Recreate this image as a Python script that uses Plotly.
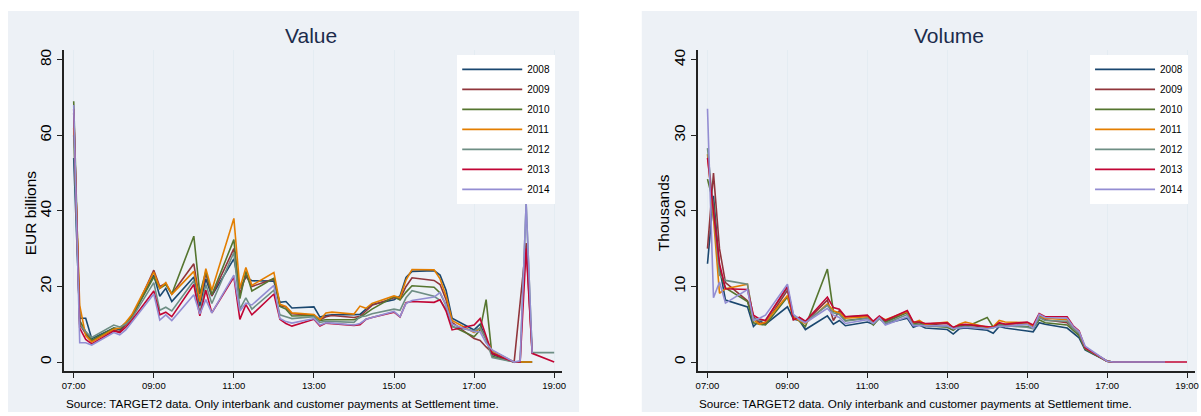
import plotly.graph_objects as go

# ---------------- data ----------------
years = ["2008", "2009", "2010", "2011", "2012", "2013", "2014"]
colors = ["#1a476f", "#90353b", "#55752f", "#e37e00", "#6e8e84", "#c10534", "#938dd2"]

# observation times (hours); points at :00, :09, :18, :27 of each hour, then 19:00
hours = [7, 8, 9, 10, 11, 12, 13, 14, 15, 16, 17, 18]
minutes = [0, 9, 18, 27]
times = [h + m / 60 for h in hours for m in minutes] + [19.0]

tick_vals = [7, 9, 11, 13, 15, 17, 19]
tick_text = ["07:00", "09:00", "11:00", "13:00", "15:00", "17:00", "19:00"]

N = None
# Value, EUR billions
value_2008 = [54, 11.6, 11.6, 6.2, 9.0, 8.5, 10.0, 12.0, 23.0, 17.4, 19.5, 16.0,
              22.5, 14.8, 22.0, 17.5, 27.3, 19.5, 22.5, 21.5, 21.4, 15.8, 16.0, 14.3,
              14.6, 11.9, 12.3, 12.5, 12.5, 12.6, 14.0, 15.2, 16.5, 17.5, 22.4, 24.0,
              24.2, 23.0, 19.0, 11.6, 8.5, 10.0, 6.0, 2.0, 0.0, 0.0, 0.0, 0.0, N]
value_2009 = [66, 10.0, 7.5, 5.5, 8.5, 8.0, 9.8, 11.5, 24.3, 20.0, 20.8, 18.0,
              26.0, 16.0, 23.5, 17.5, 30.0, 18.0, 23.0, 20.0, 22.0, 14.9, 14.6, 12.8,
              12.4, 11.2, 12.0, 12.3, 11.8, 12.1, 13.5, 15.0, 17.0, 16.7, 20.0, 22.3,
              21.6, 20.5, 16.5, 10.5, 6.2, 5.7, 4.0, 2.5, 0.0, 15.0, 31.5, 2.3, N]
value_2010 = [69, 11.0, 8.0, 5.8, 9.0, 8.8, 10.3, 12.0, 22.5, 19.5, 20.5, 18.0,
              33.3, 18.0, 24.0, 17.8, 32.4, 16.8, 24.0, 18.8, 22.2, 14.7, 14.0, 12.2,
              12.3, 11.0, 11.2, 11.2, 11.2, 11.8, 12.8, 14.0, 17.3, 16.4, 18.5, 20.2,
              19.8, 18.3, 15.0, 9.5, 6.7, 8.5, 16.5, 1.5, 0.0, 0.0, 0.0, 0.0, N]
value_2011 = [62, 15.0, 7.0, 5.3, 8.7, 9.0, 10.5, 12.5, 23.8, 19.5, 21.0, 17.9,
              24.0, 16.0, 24.7, 19.0, 38.0, 19.5, 25.0, 20.3, 23.7, 15.3, 14.7, 13.0,
              12.6, 11.2, 13.0, 13.2, 12.7, 14.8, 14.2, 15.5, 17.5, 17.0, 21.7, 24.5,
              24.4, 22.0, 17.5, 11.0, 7.8, 9.0, 6.0, 3.0, 0.0, 0.0, 0.0, 0.0, N]
value_2012 = [60, 10.0, 8.0, 6.5, 9.8, 9.3, 10.0, 11.5, 21.0, 13.7, 14.5, 13.5,
              21.5, 13.0, 20.5, 15.5, 29.0, 14.0, 17.0, 14.0, 19.0, 12.5, 12.0, 11.5,
              12.0, 10.5, 10.8, 10.7, 10.5, 12.0, 12.2, 12.8, 14.0, 13.7, 17.0, 18.9,
              17.4, 16.3, 14.0, 9.3, 8.3, 9.0, 6.0, 1.2, 0.0, 0.0, 42.0, 2.5, 2.5]
value_2013 = [67, 9.0, 6.0, 4.8, 8.2, 7.8, 9.2, 11.0, 18.8, 12.5, 13.2, 12.0,
              20.5, 12.2, 19.0, 13.0, 22.5, 11.3, 15.2, 12.5, 18.0, 11.3, 10.2, 9.5,
              11.3, 9.5, 10.3, 10.2, 9.7, 9.9, 11.3, 11.8, 13.2, 11.9, 15.7, 16.0,
              15.8, 16.5, 13.5, 8.5, 9.8, 11.5, 7.0, 2.2, 0.0, 0.0, 30.0, 2.3, 0.0]
value_2014 = [68, 5.1, 5.1, 4.5, 7.8, 7.2, 8.5, 10.5, 18.0, 11.1, 12.5, 11.0,
              17.8, 12.7, 16.5, 13.0, 23.0, 13.5, 15.6, 15.1, 20.3, 11.5, 10.7, 10.3,
              11.5, 9.8, 10.4, 10.3, 9.8, 10.2, 11.3, 11.8, 13.4, 12.0, 15.5, 16.3,
              17.2, 18.4, 15.0, 10.0, 8.0, 8.0, 5.0, 3.2, 0.0, 0.3, 42.0, 2.3, N]

# Volume, thousands
volume_2008 = [13, 22, 12.5, 8.2, 7.3, 4.7, 5.5, 5.0, 7.3, 5.7, 5.5, 4.3,
               6.1, 5.0, 5.5, 4.8, 5.3, 5.0, 5.9, 5.1, 5.8, 4.6, 4.9, 4.5,
               4.3, 3.7, 4.4, 4.5, 4.2, 3.8, 4.7, 4.5, 4.1, 4.0, 5.2, 5.0,
               4.5, 3.8, 3.2, 1.6, 0.1, 0, 0, 0, 0, 0, 0, 0, N]
volume_2009 = [15, 25, 15, 10.5, 8.1, 6.0, 5.2, 5.1, 9.5, 5.6, 5.9, 5.3,
               8.2, 5.5, 6.8, 6.0, 6.1, 5.2, 6.0, 5.3, 6.6, 5.1, 5.2, 4.9,
               5.1, 4.5, 4.8, 4.9, 4.6, 4.6, 5.1, 5.0, 5.1, 4.6, 6.2, 5.6,
               5.2, 4.5, 3.7, 1.8, 0.1, 0, 0, 0, 0, 0, 0, 0, N]
volume_2010 = [24.2, 21, 12, 9.8, 8.0, 5.2, 5.0, 4.9, 8.6, 6.0, 5.4, 4.7,
               12.3, 6.7, 6.5, 5.5, 5.8, 4.9, 5.8, 5.3, 6.6, 5.0, 5.3, 4.8,
               4.6, 4.2, 4.8, 4.6, 5.9, 4.6, 5.0, 4.8, 4.7, 4.5, 5.6, 5.2,
               4.9, 4.2, 3.5, 1.7, 0.1, 0, 0, 0, 0, 0, 0, 0, N]
volume_2011 = [27.5, 19, 9.1, 9.7, 10.3, 5.6, 5.0, 5.3, 8.8, 5.9, 5.5, 5.1,
               7.7, 6.8, 6.5, 5.8, 6.0, 5.2, 6.0, 5.6, 6.7, 5.2, 5.5, 5.0,
               5.3, 4.5, 5.0, 5.3, 4.6, 4.7, 5.5, 5.3, 5.2, 4.8, 6.0, 5.8,
               5.6, 4.6, 3.9, 1.9, 0.1, 0, 0, 0, 0, 0, 0, 0, N]
volume_2012 = [28.3, 20, 11.5, 10.8, 10.3, 5.8, 5.5, 5.5, 9.8, 6.2, 5.8, 5.3,
               7.5, 6.5, 6.3, 5.4, 5.8, 5.1, 5.7, 5.1, 6.3, 4.9, 5.0, 4.8,
               4.7, 4.6, 4.6, 4.7, 4.4, 4.5, 4.9, 4.8, 4.6, 4.4, 5.9, 5.5,
               5.4, 4.4, 3.8, 1.9, 0.1, 0, 0, 0, 0, 0, 0, 0, N]
volume_2013 = [27, 20, 13, 9.7, 9.6, 6.2, 5.7, 5.5, 10.0, 5.6, 5.9, 5.4,
               8.6, 7.2, 7.0, 6.0, 6.2, 5.4, 6.1, 5.5, 6.8, 5.3, 5.3, 5.1,
               5.2, 4.6, 4.9, 5.0, 4.7, 4.6, 5.2, 5.0, 5.3, 4.9, 6.4, 6.0,
               6.0, 4.8, 4.1, 1.9, 0.1, 0, 0, 0, 0, 0, 0, 0, 0]
volume_2014 = [33.5, 8.5, 10.6, 7.8, 9.6, 5.5, 5.8, 6.2, 10.3, 6.3, 5.6, 5.2,
               7.1, 6.2, 5.9, 5.1, 5.6, 5.1, 5.9, 4.9, 6.0, 4.8, 4.8, 4.8,
               4.8, 4.4, 4.5, 4.6, 4.4, 4.5, 4.7, 4.7, 5.0, 4.5, 6.3, 5.9,
               5.8, 4.7, 4.0, 2.1, 0.1, 0, 0, 0, 0, 0, 0, 0, N]

value_series = [value_2008, value_2009, value_2010, value_2011, value_2012, value_2013, value_2014]
volume_series = [volume_2008, volume_2009, volume_2010, volume_2011, volume_2012, volume_2013, volume_2014]

source_text = "Source: TARGET2 data. Only interbank and customer payments at Settlement time."

# ---------------- figure ----------------
W, H = 1201, 416
FONT = "Liberation Sans, Arial, Helvetica, sans-serif"
PANEL = "#edf1f6"
GRID = "#e4ecf2"
AXIS = "#222222"
TITLE_C = "#1c2c4c"

fig = go.Figure()

for yr, col, vals in zip(years, colors, value_series):
    fig.add_trace(go.Scatter(x=times, y=vals, mode="lines", name=yr,
                             line=dict(color=col, width=1.6),
                             xaxis="x", yaxis="y", legend="legend",
                             legendgroup="v" + yr, connectgaps=False))
for yr, col, vals in zip(years, colors, volume_series):
    fig.add_trace(go.Scatter(x=times, y=vals, mode="lines", name=yr,
                             line=dict(color=col, width=1.6),
                             xaxis="x2", yaxis="y2", legend="legend2",
                             legendgroup="q" + yr, connectgaps=False))

def px_x(p):
    return p / W

def px_y(p):
    return 1 - p / H

ydom = [px_y(371), px_y(49)]

xax = dict(range=[6.75, 19.2], tickvals=tick_vals, ticktext=tick_text,
           showgrid=True, gridcolor=GRID, gridwidth=1, zeroline=False,
           showline=True, linecolor=AXIS, linewidth=1.5, ticks="outside",
           ticklen=5, tickcolor=AXIS, tickfont=dict(size=9.5, color="#000", family=FONT))
yax = dict(showgrid=False, zeroline=False, showline=True, linecolor=AXIS, linewidth=1.5,
           ticks="outside", ticklen=5, tickcolor=AXIS, tickangle=-90,
           tickfont=dict(size=15.5, color="#000", family=FONT))

legend_common = dict(bgcolor="white", borderwidth=0, font=dict(size=10, color="#000", family=FONT),
                     xanchor="right", yanchor="top", tracegroupgap=1, itemwidth=60)

ytitle_font = dict(size=15.5, color="#000", family=FONT)

fig.update_layout(
    width=W, height=H,
    margin=dict(l=0, r=0, t=0, b=0),
    paper_bgcolor="white", plot_bgcolor="white",
    font=dict(family=FONT),
    xaxis=dict(domain=[px_x(62), px_x(563)], anchor="y", **xax),
    yaxis=dict(domain=ydom, anchor="x", range=[-2.4, 82.6], tickvals=[0, 20, 40, 60, 80], **yax),
    xaxis2=dict(domain=[px_x(699), px_x(1199)], anchor="y2", **xax),
    yaxis2=dict(domain=ydom, anchor="x2", range=[-1.2, 41.3], tickvals=[0, 10, 20, 30, 40], **yax),
    legend=dict(x=px_x(556), y=px_y(54), **legend_common),
    legend2=dict(x=px_x(1192), y=px_y(54), **legend_common),
    shapes=[
        dict(type="rect", xref="paper", yref="paper", x0=px_x(6), x1=px_x(580),
             y0=px_y(412), y1=px_y(10), fillcolor=PANEL, line=dict(width=0), layer="below"),
        dict(type="rect", xref="paper", yref="paper", x0=px_x(643), x1=1.0,
             y0=px_y(412), y1=px_y(10), fillcolor=PANEL, line=dict(width=0), layer="below"),
    ],
    annotations=[
        dict(text="Value", x=px_x(311), y=px_y(35), xref="paper", yref="paper",
             showarrow=False, font=dict(size=21, color=TITLE_C, family=FONT),
             xanchor="center", yanchor="middle"),
        dict(text="Volume", x=px_x(952), y=px_y(35), xref="paper", yref="paper",
             showarrow=False, font=dict(size=21, color=TITLE_C, family=FONT),
             xanchor="center", yanchor="middle"),
        dict(text="EUR billions", x=px_x(29), y=px_y(212), xref="paper", yref="paper",
             showarrow=False, textangle=-90, font=ytitle_font,
             xanchor="center", yanchor="middle"),
        dict(text="Thousands", x=px_x(665), y=px_y(212), xref="paper", yref="paper",
             showarrow=False, textangle=-90, font=ytitle_font,
             xanchor="center", yanchor="middle"),
        dict(text=source_text, x=px_x(62), y=px_y(403), xref="paper", yref="paper",
             showarrow=False, font=dict(size=11.7, color="#000", family=FONT),
             xanchor="left", yanchor="middle"),
        dict(text=source_text, x=px_x(698), y=px_y(403), xref="paper", yref="paper",
             showarrow=False, font=dict(size=11.7, color="#000", family=FONT),
             xanchor="left", yanchor="middle"),
    ],
)

fig.write_html("out.html", config={"displayModeBar": False},
               post_script="document.body.style.margin='0px';document.body.style.overflow='hidden';")
